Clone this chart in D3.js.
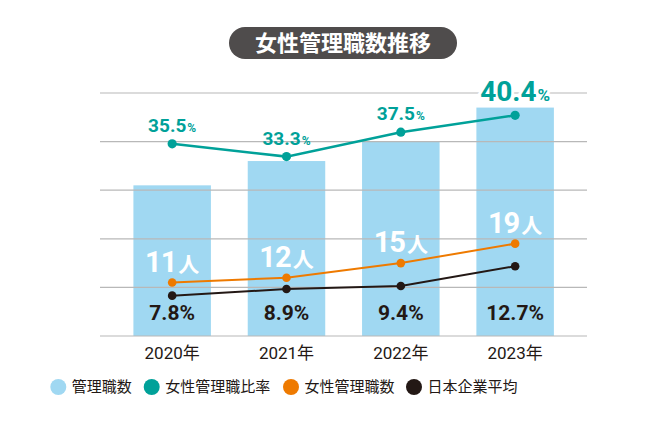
<!DOCTYPE html>
<html><head><meta charset="utf-8">
<script src="https://cdn.jsdelivr.net/npm/d3@7"></script>
<style>
html,body{margin:0;padding:0;background:#fff;}
svg{display:block;}
</style></head>
<body>
<svg id="chart" width="652" height="435"></svg>
<script>
// ---- data ----
const years = ["2020年", "2021年", "2022年", "2023年"];
const managers = [31, 36, 40, 47];          // 管理職数 (bars)
const femaleRatio = [35.5, 33.3, 37.5, 40.4]; // 女性管理職比率 (%)
const femaleManagers = [11, 12, 15, 19];    // 女性管理職数 (人)
const japanAvg = [7.8, 8.9, 9.4, 12.7];     // 日本企業平均 (%)
const gridTicks = [0, 10, 20, 30, 40, 50];
const title = "女性管理職数推移";
const legendLabels = ["管理職数", "女性管理職比率", "女性管理職数", "日本企業平均"];

// ---- styles ----
const C = {bar:"#a0d8f2", teal:"#00a199", orange:"#ee7a00", black:"#231815", grid:"#b8b8b8", pill:"#4f4c4c", text:"#231815"};
const numFont = "Roboto, 'DejaVu Sans', sans-serif";
const jpFont = "'Noto Sans CJK JP', 'Noto Sans', sans-serif";

const svg = d3.select("#chart");

// ---- scales ----
const x = d3.scaleBand().domain(years).range([115, 572.3]).paddingInner(0.322).paddingOuter(0.161);
const yBar = d3.scaleLinear().domain([0, 50]).range([336, 93]);
const yRatio = d3.scaleLinear().domain([30, 45]).range([175.8, 88.6]);
const yAvg = d3.scaleLinear().domain([0, 15]).range([342.5, 252.4]);
const cx = (d, i) => x(years[i]) + x.bandwidth() / 2;

// ---- title ----
const tg = svg.append("g");
tg.append("rect").attr("x", 229).attr("y", 27).attr("width", 228).attr("height", 32).attr("rx", 16).attr("fill", C.pill);
tg.append("text").attr("x", 343).attr("y", 43).attr("dy", "0.36em").attr("text-anchor", "middle")
  .attr("font-family", jpFont).attr("font-weight", 700).attr("font-size", 22).attr("fill", "#fff").text(title);

// ---- bars ----
svg.append("g").selectAll("rect").data(managers).join("rect")
  .attr("x", (d, i) => x(years[i])).attr("width", x.bandwidth())
  .attr("y", d => yBar(d)).attr("height", d => yBar(0) - yBar(d)).attr("fill", C.bar);

// ---- gridlines ----
svg.append("g").selectAll("line").data(gridTicks).join("line")
  .attr("x1", 100).attr("x2", 587).attr("y1", d => yBar(d)).attr("y2", d => yBar(d))
  .attr("stroke", C.grid).attr("stroke-width", 1.2);

// ---- x-axis labels ----
svg.append("g").selectAll("text").data(years).join("text")
  .attr("x", d => x(d) + x.bandwidth() / 2).attr("y", 359).attr("text-anchor", "middle")
  .attr("font-family", "Roboto, 'Noto Sans CJK JP', sans-serif").attr("font-size", 17).attr("fill", C.text).text(d => d);

// ---- lines ----
function drawLine(vals, yScale, color, width, r) {
  const line = d3.line().x((d, i) => cx(d, i)).y(d => yScale(d));
  svg.append("path").datum(vals).attr("d", line).attr("fill", "none").attr("stroke", color).attr("stroke-width", width);
  svg.append("g").selectAll("circle").data(vals).join("circle")
    .attr("cx", (d, i) => cx(d, i)).attr("cy", d => yScale(d)).attr("r", r).attr("fill", color);
}
drawLine(japanAvg, yAvg, C.black, 2, 4.3);
drawLine(femaleManagers, yBar, C.orange, 2, 4.3);
drawLine(femaleRatio, yRatio, C.teal, 2.5, 4.6);

// ---- teal ratio labels ----
const last = femaleRatio.length - 1;
svg.append("g").selectAll("text").data(femaleRatio).join("text")
  .attr("x", (d, i) => cx(d, i))
  .attr("y", (d, i) => yRatio(d) - (i === last ? 14 : 12))
  .attr("text-anchor", "middle").attr("font-family", numFont).attr("font-weight", 700).attr("fill", C.teal)
  .attr("stroke", (d, i) => i === last ? "#fff" : "none").attr("stroke-width", 6).attr("paint-order", "stroke")
  .each(function(d, i) {
    const t = d3.select(this);
    t.append("tspan").attr("font-size", i === last ? 28 : 19).text(d.toFixed(1));
    t.append("tspan").attr("font-size", i === last ? 17 : 12).attr("dx", 1).text("%");
  });

// ---- white female count labels ----
svg.append("g").selectAll("text").data(femaleManagers).join("text")
  .attr("x", (d, i) => cx(d, i)).attr("y", d => yBar(d) - 11)
  .attr("text-anchor", "middle").attr("font-weight", 700).attr("fill", "#fff")
  .each(function(d) {
    const t = d3.select(this);
    t.append("tspan").attr("font-family", numFont).attr("font-size", 29).attr("letter-spacing", -1).text(d);
    t.append("tspan").attr("font-family", jpFont).attr("font-size", 21).attr("dx", 2).text("人");
  });

// ---- black avg labels ----
svg.append("g").selectAll("text").data(japanAvg).join("text")
  .attr("x", (d, i) => cx(d, i)).attr("y", 320)
  .attr("text-anchor", "middle").attr("font-family", numFont).attr("font-weight", 700)
  .attr("font-size", 21).attr("fill", C.black).text(d => d.toFixed(1) + "%");

// ---- legend ----
const legendColors = [C.bar, C.teal, C.orange, C.black];
const legendX = [58.3, 151.7, 291, 414];
const lg = svg.append("g").selectAll("g").data(legendLabels).join("g")
  .attr("transform", (d, i) => `translate(${legendX[i]},387)`);
lg.append("circle").attr("r", 8).attr("fill", (d, i) => legendColors[i]);
lg.append("text").attr("x", 13.5).attr("dy", "0.36em").attr("font-family", jpFont).attr("font-size", 15)
  .attr("fill", C.text).text(d => d);
</script>
</body></html>
